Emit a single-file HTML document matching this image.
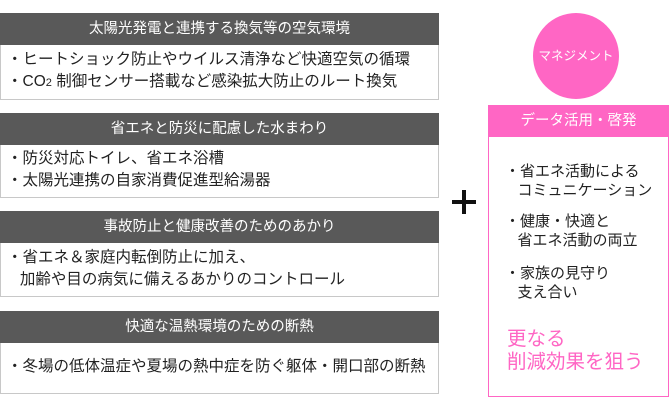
<!DOCTYPE html><html><head><style>
body{margin:0;width:670px;height:409px;background:#fff;position:relative;font-family:"Liberation Sans","Noto Sans CJK JP",sans-serif;overflow:hidden}
.a{position:absolute}
.h{background:#595959;color:#fff;font-size:14.5px;text-align:center;line-height:32px;left:0;width:439px}
.b{border:1px solid #c8c8c8;border-top:none;left:0;color:#222;font-size:15.5px;line-height:22px;padding-left:6px;box-sizing:border-box;width:439px;white-space:nowrap}
.p{color:#222;font-size:15px;line-height:19px;left:505px;white-space:nowrap}
</style></head><body>
<div class="a h" style="top:13px">太陽光発電と連携する換気等の空気環境</div>
<div class="a b" style="top:45px;height:55px;padding-top:4px">・ヒートショック防止やウイルス清浄など快適空気の循環<br>・CO<span style="font-size:11px">2</span> 制御センサー搭載など感染拡大防止のルート換気</div>
<div class="a h" style="top:113px">省エネと防災に配慮した水まわり</div>
<div class="a b" style="top:145px;height:53px;padding-top:3px">・防災対応トイレ、省エネ浴槽<br>・太陽光連携の自家消費促進型給湯器</div>
<div class="a h" style="top:211px">事故防止と健康改善のためのあかり</div>
<div class="a b" style="top:243px;height:54px;padding-top:4px">・省エネ＆家庭内転倒防止に加え、<br>&nbsp;&nbsp;&nbsp;加齢や目の病気に備えるあかりのコントロール</div>
<div class="a h" style="top:311px">快適な温熱環境のための断熱</div>
<div class="a b" style="top:343px;height:51px;padding-top:13px">・冬場の低体温症や夏場の熱中症を防ぐ躯体・開口部の断熱</div>
<div class="a" style="left:452px;top:200px;width:24px;height:4px;background:#111"></div>
<div class="a" style="left:462px;top:190px;width:4px;height:24px;background:#111"></div>
<div class="a" style="left:533px;top:13px;width:86px;height:86px;border-radius:50%;background:#ff66c4;color:#fff;font-size:12.5px;line-height:86px;text-align:center">マネジメント</div>
<div class="a" style="left:488px;top:105px;width:181px;height:292px;border:1px solid #ff66c4;box-sizing:border-box"></div>
<div class="a" style="left:488px;top:105px;width:181px;height:32px;background:#ff66c4;color:#fff;font-size:14.5px;line-height:32px;text-align:center">データ活用・啓発</div>
<div class="a p" style="top:162px">・省エネ活動による<br>&nbsp;&nbsp;&nbsp;コミュニケーション</div>
<div class="a p" style="top:212px">・健康・快適と<br>&nbsp;&nbsp;&nbsp;省エネ活動の両立</div>
<div class="a p" style="top:264px">・家族の見守り<br>&nbsp;&nbsp;&nbsp;支え合い</div>
<div class="a" style="left:507px;top:328px;color:#ff66c4;font-size:19.5px;line-height:23px;white-space:nowrap">更なる<br>削減効果を狙う</div>
</body></html>
